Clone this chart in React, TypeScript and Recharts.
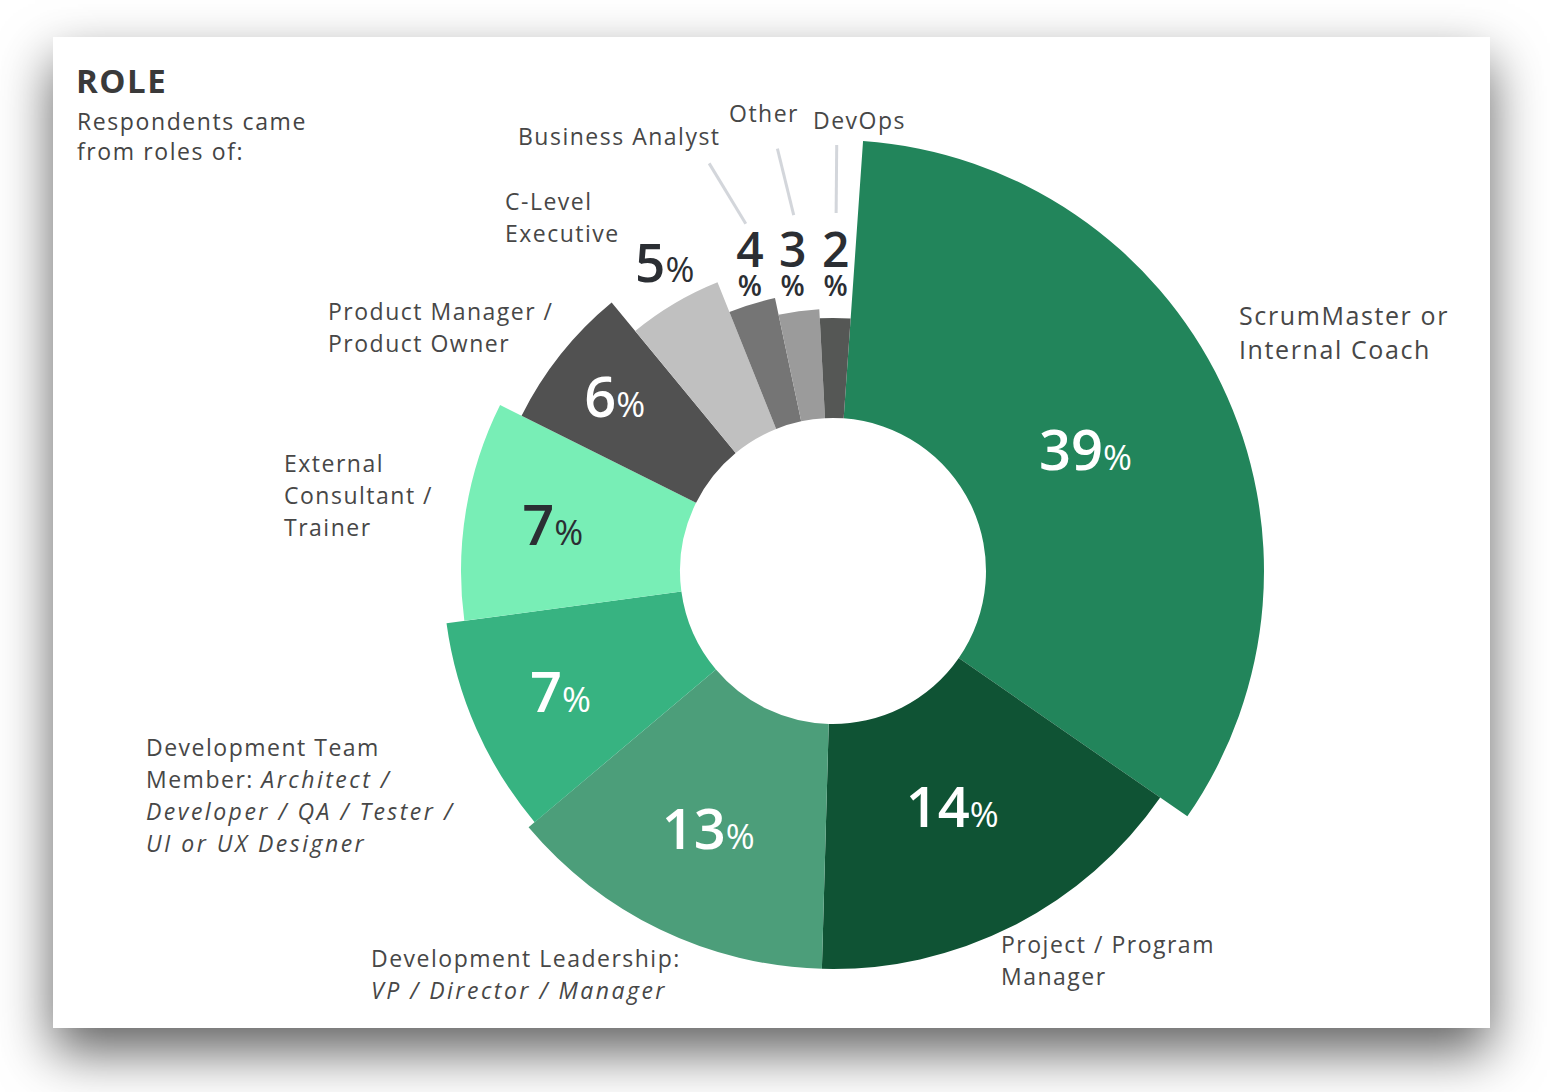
import { PieChart, Pie, Cell } from "recharts";

// --- data ---
const roles = [
  "ScrumMaster or Internal Coach",
  "Project / Program Manager",
  "Development Leadership",
  "Development Team Member",
  "External Consultant / Trainer",
  "Product Manager / Product Owner",
  "C-Level Executive",
  "Business Analyst",
  "Other",
  "DevOps",
];
const percents = [39, 14, 13, 7, 7, 6, 5, 4, 3, 2];
// the artwork does not scale slices to the printed percentages,
// so the drawn sweep of each slice (degrees) is measured separately
const sweepDeg = [120.7, 56.9, 48.3, 32.4, 34.2, 24, 17.7, 9.8, 9, 7];

type Seg = { t: string; i?: boolean };
const roleLines: Seg[][][] = [
  [[{ t: "ScrumMaster or" }], [{ t: "Internal Coach" }]],
  [[{ t: "Project / Program" }], [{ t: "Manager" }]],
  [[{ t: "Development Leadership:" }], [{ t: "VP / Director / Manager", i: true }]],
  [
    [{ t: "Development Team" }],
    [{ t: "Member: " }, { t: "Architect /", i: true }],
    [{ t: "Developer / QA / Tester /", i: true }],
    [{ t: "UI or UX Designer", i: true }],
  ],
  [[{ t: "External" }], [{ t: "Consultant /" }], [{ t: "Trainer" }]],
  [[{ t: "Product Manager /" }], [{ t: "Product Owner" }]],
  [[{ t: "C-Level" }], [{ t: "Executive" }]],
  [[{ t: "Business Analyst" }]],
  [[{ t: "Other" }]],
  [[{ t: "DevOps" }]],
];

const rows = roles.map((role, i) => ({ role, pct: percents[i], deg: sweepDeg[i] }));

// --- styling / layout ---
const FONT = "'Open Sans', 'Noto Sans', sans-serif";
const CX = 828; // chart margin (5px) is added by recharts
const CY = 566;
const INNER = 153;
const START = 86; // 4deg clockwise of 12 o'clock

const colors = [
  "#22855b",
  "#0f5334",
  "#4c9e7a",
  "#37b381",
  "#78eeb6",
  "#515151",
  "#c0c0c0",
  "#757575",
  "#9b9b9b",
  "#555755",
];
const outerR = [431, 398, 398, 390, 372, 348, 311, 279, 262, 253];
const labelR = [280, 264, 287, 298, 284, 279, 351, 317, 309, 306];
const labelNudge = [0, 0, 0, 0, 0, 0, 2, 1.7, 0, 0];
const leaderTilt = [0, 0, 0, 0, 0, 0, 0, 2.8, 1.2, 0];
const labelInk = ["#fff", "#fff", "#fff", "#fff", "#2b2e33", "#fff", "#2b2e33", "#2b2e33", "#2b2e33", "#2b2e33"];

const labelBox = [
  { x: 1239, y: 298, fs: 25, lh: 34, ls: 1.6 },
  { x: 1001, y: 928, fs: 23, lh: 32, ls: 1.5 },
  { x: 371, y: 942, fs: 23, lh: 32, ls: 1.5 },
  { x: 146, y: 731, fs: 23, lh: 32, ls: 1.5 },
  { x: 284, y: 447, fs: 23, lh: 32, ls: 1.5 },
  { x: 328, y: 295, fs: 23, lh: 32, ls: 1.5 },
  { x: 505, y: 185, fs: 23, lh: 32, ls: 1.5 },
  { x: 518, y: 120, fs: 23, lh: 32, ls: 1.5 },
  { x: 729, y: 97, fs: 23, lh: 32, ls: 1.5 },
  { x: 813, y: 104, fs: 23, lh: 32, ls: 1.5 },
];

const RAD = Math.PI / 180;
const polar = (cx: number, cy: number, r: number, a: number) => ({
  x: cx + r * Math.cos(-a * RAD),
  y: cy + r * Math.sin(-a * RAD),
});

function PctLabel(props: any) {
  const { cx, cy, midAngle, index } = props;
  const p = polar(cx, cy, labelR[index], midAngle - labelNudge[index]);
  const ink = labelInk[index];
  if (index >= 7) {
    const a = polar(cx, cy, 426, midAngle);
    const b = polar(cx, cy, 358, midAngle - leaderTilt[index]);
    return (
      <g>
        <line x1={a.x} y1={a.y} x2={b.x} y2={b.y} stroke="#d3d6db" strokeWidth={3} />
        <text x={p.x} y={p.y + 2} textAnchor="middle" fill={ink} fontFamily={FONT} fontWeight={600}>
          <tspan x={p.x} fontSize={48}>{percents[index]}</tspan>
          <tspan x={p.x} dy={29} fontSize={28}>%</tspan>
        </text>
      </g>
    );
  }
  const big = index === 6 ? 53 : 56;
  return (
    <text x={p.x} y={p.y + big * 0.357} textAnchor="middle" fill={ink} fontFamily={FONT}>
      <tspan fontSize={big} fontWeight={600}>{percents[index]}</tspan>
      <tspan fontSize={35} fontWeight={500}>%</tspan>
    </text>
  );
}

export default function App() {
  return (
    <div
      style={{
        position: "absolute",
        left: 0,
        top: 0,
        width: 1550,
        height: 1092,
        background: "#fff",
        overflow: "hidden",
        fontFamily: FONT,
      }}
    >
      <div
        style={{
          position: "absolute",
          left: 53,
          top: 37,
          width: 1437,
          height: 991,
          background: "#fff",
          boxShadow: "0 24px 50px rgba(0,0,0,0.62)",
        }}
      />
      <div
        style={{
          position: "absolute",
          left: 76,
          top: 61,
          fontSize: 33,
          lineHeight: "40px",
          fontWeight: 700,
          letterSpacing: 1.5,
          color: "#3a3a3a",
        }}
      >
        ROLE
      </div>
      <div
        style={{
          position: "absolute",
          left: 77,
          top: 106,
          fontSize: 23,
          lineHeight: "30px",
          letterSpacing: 1.6,
          color: "#444",
        }}
      >
        Respondents came
        <br />
        from roles of:
      </div>
      <div style={{ position: "absolute", left: 0, top: 0 }}>
        <PieChart width={1550} height={1092}>
          {rows.map((_, i) => (
            <Pie
              key={i}
              data={rows}
              dataKey="deg"
              nameKey="role"
              cx={CX}
              cy={CY}
              innerRadius={INNER}
              outerRadius={outerR[i]}
              startAngle={START}
              endAngle={START - 360}
              stroke="none"
              isAnimationActive={false}
              labelLine={false}
              label={i === rows.length - 1 ? PctLabel : false}
            >
              {rows.map((_, j) => (
                <Cell key={j} fill={j === i ? colors[j] : "none"} stroke="none" />
              ))}
            </Pie>
          ))}
        </PieChart>
      </div>
      {roleLines.map((lines, i) => (
        <div
          key={i}
          style={{
            position: "absolute",
            left: labelBox[i].x,
            top: labelBox[i].y,
            fontSize: labelBox[i].fs,
            lineHeight: `${labelBox[i].lh}px`,
            letterSpacing: labelBox[i].ls,
            color: "#474747",
            whiteSpace: "nowrap",
          }}
        >
          {lines.map((segs, k) => (
            <div key={k}>
              {segs.map((s, m) => (
                <span key={m} style={s.i ? { fontStyle: "italic", letterSpacing: 2.5 } : undefined}>
                  {s.t}
                </span>
              ))}
            </div>
          ))}
        </div>
      ))}
    </div>
  );
}
